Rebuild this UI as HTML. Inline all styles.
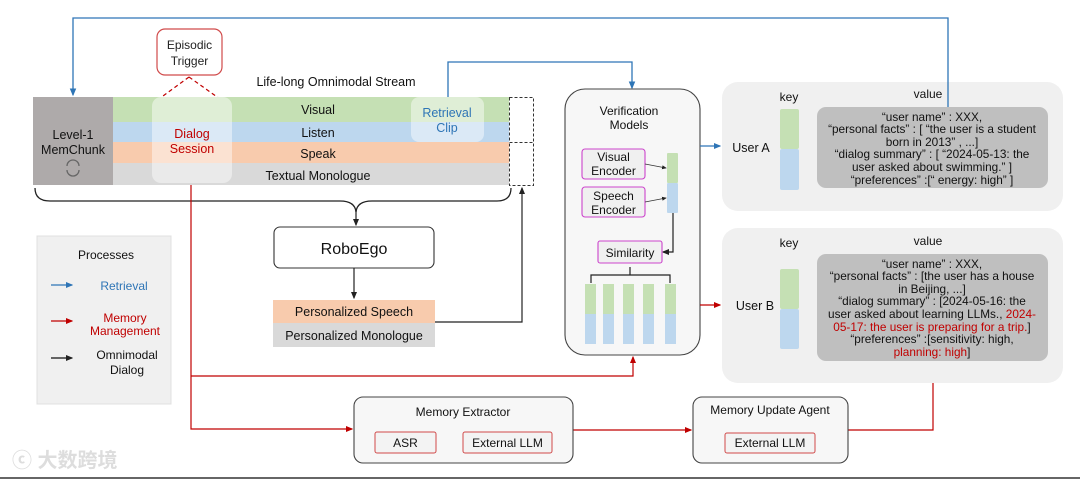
<!DOCTYPE html>
<html><head><meta charset="utf-8"><style>
html,body{margin:0;padding:0;background:#fff;}
svg{display:block;font-family:"Liberation Sans","Noto Sans CJK SC",sans-serif;}
</style></head><body>
<svg width="1080" height="479" viewBox="0 0 1080 479" xmlns="http://www.w3.org/2000/svg">
<defs>
<marker id="ab" markerWidth="6" markerHeight="6" refX="5" refY="3" orient="auto"><path d="M0,0.5 L6,3 L0,5.5z" fill="#2e75b6"/></marker>
<marker id="ar" markerWidth="6" markerHeight="6" refX="5" refY="3" orient="auto"><path d="M0,0.5 L6,3 L0,5.5z" fill="#c00000"/></marker>
<marker id="ak" markerWidth="6" markerHeight="6" refX="5" refY="3" orient="auto"><path d="M0,0.5 L6,3 L0,5.5z" fill="#222"/></marker>
</defs>
<rect width="1080" height="479" fill="#fff"/>
<line x1="0" y1="478" x2="1080" y2="478" stroke="#666" stroke-width="2"/>

<path d="M948,107 L948,18 L73,18 L73,95" fill="none" stroke="#2e75b6" stroke-width="1.3" marker-end="url(#ab)"/>
<path d="M448,97 L448,62 L632,62 L632,88" fill="none" stroke="#2e75b6" stroke-width="1.3" marker-end="url(#ab)"/>

<rect x="157" y="29" width="65" height="46" rx="8" fill="#fff" stroke="#d04a4a" stroke-width="1.2"/>
<text x="189.5" y="49" font-size="12" text-anchor="middle" fill="#222">Episodic</text>
<text x="189.5" y="65" font-size="12" text-anchor="middle" fill="#222">Trigger</text>
<path d="M189,77 L152,104 M189,77 L227,104" stroke="#c00000" stroke-width="1.2" stroke-dasharray="4,3" fill="none"/>

<text x="336" y="86" font-size="12.5" text-anchor="middle" fill="#111">Life-long Omnimodal Stream</text>

<rect x="33" y="97" width="80" height="88" fill="#aeaaaa"/>
<rect x="113" y="97" width="396" height="25" fill="#c5e0b4"/>
<rect x="113" y="122" width="396" height="20" fill="#bdd7ee"/>
<rect x="113" y="142" width="396" height="21" fill="#f8cbad"/>
<rect x="113" y="163" width="396" height="22" fill="#d9d9d9"/>
<text x="73" y="139" font-size="12.5" text-anchor="middle" fill="#111">Level-1</text>
<text x="73" y="154" font-size="12.5" text-anchor="middle" fill="#111">MemChunk</text>
<path d="M67,166 A6,6 0 0 1 79,166 M79,170 A6,6 0 0 1 67,170" stroke="#666" stroke-width="1.3" fill="none"/>
<text x="318" y="114" font-size="12.5" text-anchor="middle" fill="#111">Visual</text>
<text x="318" y="137" font-size="12.5" text-anchor="middle" fill="#111">Listen</text>
<text x="318" y="158" font-size="12.5" text-anchor="middle" fill="#111">Speak</text>
<text x="318" y="180" font-size="12.5" text-anchor="middle" fill="#111">Textual Monologue</text>
<rect x="152" y="97" width="80" height="86" rx="9" fill="#fff" fill-opacity="0.45"/>
<text x="192" y="138" font-size="12.5" text-anchor="middle" fill="#c00000">Dialog</text>
<text x="192" y="153" font-size="12.5" text-anchor="middle" fill="#c00000">Session</text>
<rect x="411" y="97" width="73" height="45" rx="8" fill="#fff" fill-opacity="0.45"/>
<text x="447" y="117" font-size="12.5" text-anchor="middle" fill="#2e75b6">Retrieval</text>
<text x="447" y="132" font-size="12.5" text-anchor="middle" fill="#2e75b6">Clip</text>
<rect x="509.5" y="97.5" width="24" height="45" fill="none" stroke="#333" stroke-dasharray="3,2"/>
<rect x="509.5" y="142.5" width="24" height="43" fill="none" stroke="#333" stroke-dasharray="3,2"/>

<path d="M35,188 Q35,201 50,201 L340,201 Q355,201 356,212 Q357,201 372,201 L497,201 Q511,201 511,188" fill="none" stroke="#222" stroke-width="1.3"/>
<line x1="356" y1="210" x2="356" y2="225" stroke="#222" stroke-width="1.2" marker-end="url(#ak)"/>

<rect x="274" y="227" width="160" height="41" rx="6" fill="#fff" stroke="#333" stroke-width="1.1"/>
<text x="354" y="254" font-size="16" text-anchor="middle" fill="#111">RoboEgo</text>
<line x1="354" y1="268" x2="354" y2="298" stroke="#222" stroke-width="1.2" marker-end="url(#ak)"/>
<rect x="273" y="300" width="162" height="23" fill="#f8cbad"/>
<rect x="273" y="323" width="162" height="24" fill="#d9d9d9"/>
<text x="354" y="316" font-size="12.5" text-anchor="middle" fill="#111">Personalized Speech</text>
<text x="354" y="340" font-size="12.5" text-anchor="middle" fill="#111">Personalized Monologue</text>
<path d="M435,322 L522,322 L522,188" fill="none" stroke="#222" stroke-width="1.2" marker-end="url(#ak)"/>

<rect x="37" y="236" width="134" height="168" fill="#f0f0f0" stroke="#e0e0e0"/>
<text x="106" y="259" font-size="12" text-anchor="middle" fill="#111">Processes</text>
<line x1="51" y1="285" x2="72" y2="285" stroke="#2e75b6" stroke-width="1.2" marker-end="url(#ab)"/>
<text x="124" y="290" font-size="12" text-anchor="middle" fill="#2e75b6">Retrieval</text>
<line x1="51" y1="321" x2="72" y2="321" stroke="#c00000" stroke-width="1.2" marker-end="url(#ar)"/>
<text x="125" y="322" font-size="12" text-anchor="middle" fill="#c00000">Memory</text>
<text x="125" y="335" font-size="12" text-anchor="middle" fill="#c00000">Management</text>
<line x1="51" y1="358" x2="72" y2="358" stroke="#111" stroke-width="1.2" marker-end="url(#ak)"/>
<text x="127" y="359" font-size="12" text-anchor="middle" fill="#111">Omnimodal</text>
<text x="127" y="374" font-size="12" text-anchor="middle" fill="#111">Dialog</text>
<text x="12" y="467" font-size="20" fill="#ddd" font-weight="bold">ⓒ 大数跨境</text>

<path d="M191,185 L191,429 L352,429" fill="none" stroke="#c00000" stroke-width="1.2" marker-end="url(#ar)"/>
<path d="M191,376 L633,376 L633,357" fill="none" stroke="#c00000" stroke-width="1.2" marker-end="url(#ar)"/>
<line x1="573" y1="430" x2="691" y2="430" stroke="#c00000" stroke-width="1.2" marker-end="url(#ar)"/>
<path d="M848,430 L933,430 L933,363" fill="none" stroke="#c00000" stroke-width="1.2" marker-end="url(#ar)"/>

<rect x="354" y="397" width="219" height="66" rx="9" fill="#f7f7f7" stroke="#444" stroke-width="1.1"/>
<text x="463" y="416" font-size="12" text-anchor="middle" fill="#111">Memory Extractor</text>
<rect x="375" y="432" width="61" height="21" rx="2" fill="#f3f3f3" stroke="#d04a4a"/>
<text x="405.5" y="447" font-size="12" text-anchor="middle" fill="#111">ASR</text>
<rect x="463" y="432" width="89" height="21" rx="2" fill="#f3f3f3" stroke="#d04a4a"/>
<text x="507.5" y="447" font-size="12" text-anchor="middle" fill="#111">External LLM</text>

<rect x="693" y="397" width="155" height="66" rx="9" fill="#f7f7f7" stroke="#444" stroke-width="1.1"/>
<text x="770" y="414" font-size="12" text-anchor="middle" fill="#111">Memory Update Agent</text>
<rect x="725" y="433" width="90" height="20" rx="2" fill="#f3f3f3" stroke="#d04a4a"/>
<text x="770" y="447" font-size="12" text-anchor="middle" fill="#111">External LLM</text>

<rect x="565" y="89" width="135" height="266" rx="20" fill="#f7f7f7" stroke="#444" stroke-width="1.1"/>
<text x="629" y="115" font-size="12" text-anchor="middle" fill="#111">Verification</text>
<text x="629" y="129" font-size="12" text-anchor="middle" fill="#111">Models</text>
<rect x="582" y="149" width="63" height="30" rx="3" fill="#f0f0f0" stroke="#cc44cc" stroke-width="1.1"/>
<text x="613.5" y="161" font-size="12" text-anchor="middle" fill="#111">Visual</text>
<text x="613.5" y="175" font-size="12" text-anchor="middle" fill="#111">Encoder</text>
<rect x="582" y="187" width="63" height="30" rx="3" fill="#f0f0f0" stroke="#cc44cc" stroke-width="1.1"/>
<text x="613.5" y="200" font-size="12" text-anchor="middle" fill="#111">Speech</text>
<text x="613.5" y="214" font-size="12" text-anchor="middle" fill="#111">Encoder</text>
<rect x="667" y="153" width="11" height="30" rx="1" fill="#c5e0b4"/>
<rect x="667" y="183" width="11" height="30" rx="1" fill="#bdd7ee"/>
<line x1="645" y1="164" x2="666" y2="168" stroke="#333" stroke-width="0.8" marker-end="url(#ak)"/>
<line x1="645" y1="202" x2="666" y2="198" stroke="#333" stroke-width="0.8" marker-end="url(#ak)"/>
<path d="M673,213 L673,252 L663,252" fill="none" stroke="#222" stroke-width="1.2" marker-end="url(#ak)"/>
<rect x="598" y="241" width="64" height="22" rx="2" fill="#f0f0f0" stroke="#cc44cc" stroke-width="1.1"/>
<text x="630" y="257" font-size="12" text-anchor="middle" fill="#111">Similarity</text>
<path d="M591,283 L591,275 L670,275 L670,283 M630,275 L630,267" fill="none" stroke="#222" stroke-width="1.2"/>
<g>
<rect x="585" y="284" width="11" height="30" fill="#c5e0b4"/><rect x="585" y="314" width="11" height="30" fill="#bdd7ee"/>
<rect x="603" y="284" width="11" height="30" fill="#c5e0b4"/><rect x="603" y="314" width="11" height="30" fill="#bdd7ee"/>
<rect x="623" y="284" width="11" height="30" fill="#c5e0b4"/><rect x="623" y="314" width="11" height="30" fill="#bdd7ee"/>
<rect x="643" y="284" width="11" height="30" fill="#c5e0b4"/><rect x="643" y="314" width="11" height="30" fill="#bdd7ee"/>
<rect x="665" y="284" width="11" height="30" fill="#c5e0b4"/><rect x="665" y="314" width="11" height="30" fill="#bdd7ee"/>
</g>
<line x1="700" y1="146" x2="720" y2="146" stroke="#2e75b6" stroke-width="1.2" marker-end="url(#ab)"/>
<line x1="700" y1="305" x2="720" y2="305" stroke="#c00000" stroke-width="1.2" marker-end="url(#ar)"/>

<rect x="722" y="82" width="341" height="129" rx="16" fill="#f0f0f0"/>
<text x="789" y="101" font-size="12" text-anchor="middle" fill="#111">key</text>
<text x="928" y="98" font-size="12" text-anchor="middle" fill="#111">value</text>
<text x="751" y="152" font-size="12.5" text-anchor="middle" fill="#111">User A</text>
<rect x="780" y="109" width="19" height="40" rx="2" fill="#c5e0b4"/>
<rect x="780" y="149" width="19" height="41" rx="2" fill="#bdd7ee"/>
<rect x="817" y="107" width="231" height="81" rx="9" fill="#bfbfbf"/>
<g font-size="11.8" text-anchor="middle" fill="#111">
<text x="932" y="121">“user name” : XXX,</text>
<text x="932" y="133">“personal facts” : [ “the user is a student</text>
<text x="932" y="146">born in 2013” , ...]</text>
<text x="932" y="158">“dialog summary” : [ “2024-05-13: the</text>
<text x="932" y="171">user asked about swimming.” ]</text>
<text x="932" y="184">“preferences” :[“ energy: high” ]</text>
</g>
<line x1="948" y1="82" x2="948" y2="107" stroke="#2e75b6" stroke-width="1.3"/>

<rect x="722" y="228" width="341" height="155" rx="16" fill="#f0f0f0"/>
<text x="789" y="247" font-size="12" text-anchor="middle" fill="#111">key</text>
<text x="928" y="245" font-size="12" text-anchor="middle" fill="#111">value</text>
<text x="755" y="310" font-size="12.5" text-anchor="middle" fill="#111">User B</text>
<rect x="780" y="269" width="19" height="40" rx="2" fill="#c5e0b4"/>
<rect x="780" y="309" width="19" height="40" rx="2" fill="#bdd7ee"/>
<rect x="817" y="254" width="231" height="107" rx="9" fill="#bfbfbf"/>
<g font-size="11.8" text-anchor="middle" fill="#111">
<text x="932" y="268">“user name” : XXX,</text>
<text x="932" y="280">“personal facts” : [the user has a house</text>
<text x="932" y="293">in Beijing, ...]</text>
<text x="932" y="305">“dialog summary” : [2024-05-16: the</text>
<text x="932" y="318">user asked about learning LLMs., <tspan fill="#c00000">2024-</tspan></text>
<text x="932" y="331"><tspan fill="#c00000">05-17: the user is preparing for a trip.</tspan>]</text>
<text x="932" y="343">“preferences” :[sensitivity: high,</text>
<text x="932" y="356"><tspan fill="#c00000">planning: high</tspan>]</text>
</g>
</svg>
</body></html>
